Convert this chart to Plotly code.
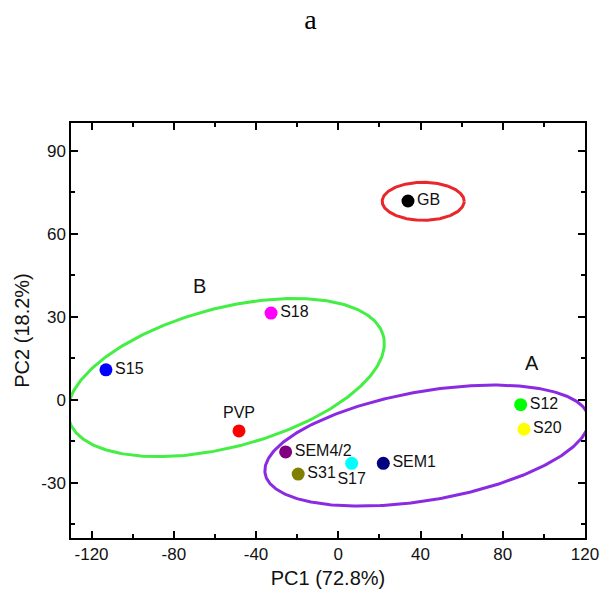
import numpy as np
import plotly.graph_objects as go

# ---- data ----
samples = ["GB", "S18", "S15", "PVP", "SEM4/2", "S31", "S17", "SEM1", "S12", "S20"]
pc1 = [33.9, -32.7, -113.0, -48.3, -25.6, -19.5, 6.5, 21.9, 88.7, 90.3]
pc2 = [71.8, 31.3, 10.8, -11.3, -18.9, -26.9, -23.0, -23.0, -1.8, -10.7]
colors = ["#000000", "#ff00ff", "#0000ff", "#ff0000", "#800080", "#808000",
          "#00ffff", "#000080", "#00ff00", "#ffff00"]
label_pos = ["middle right", "middle right", "middle right", "top center", "middle right",
             "middle right", "bottom center", "middle right", "middle right", "middle right"]

# group ellipses: center (data), semi-axes (px), rotation (deg), colour
ell_names = ["GB", "B", "A"]
ell_cx = [41.3, -54.6, 43.1]
ell_cy = [71.7, 8.0, -16.6]
ell_a_px = [41.0, 162.8, 164.2]
ell_b_px = [19.0, 69.4, 54.4]
ell_ang = [0.0, 14.9, 9.85]
ell_col = ["#e8262b", "#44ee44", "#8a2be2"]

group_labels = ["A", "B"]
group_x = [94.2, -67.3]
group_y = [13.1, 41.1]

x_range = [-130, 120]
y_range = [-50, 100]
x_ticks = [-120, -80, -40, 0, 40, 80, 120]
x_ticklabels = ["-120", "-80", "-40", "0", "40", "80", "120"]
y_ticks = [-30, 0, 30, 60, 90]
y_ticklabels = ["-30", "0", "30", "60", "90"]

W, H = 603, 600
ml, mr, mt, mb = 71, 18, 123, 62
pxx = (W - ml - mr) / (x_range[1] - x_range[0])
pxy = (H - mt - mb) / (y_range[1] - y_range[0])

FONT = "Liberation Sans, Arial"

fig = go.Figure()

t = np.linspace(0, 2 * np.pi, 361)
for cx, cy, a, b, ang, col in zip(ell_cx, ell_cy, ell_a_px, ell_b_px, ell_ang, ell_col):
    th = np.deg2rad(ang)
    dx = a * np.cos(t) * np.cos(th) - b * np.sin(t) * np.sin(th)
    dy = a * np.cos(t) * np.sin(th) + b * np.sin(t) * np.cos(th)
    fig.add_trace(go.Scatter(x=cx + dx / pxx, y=cy + dy / pxy, mode="lines",
                             line=dict(color=col, width=3), hoverinfo="skip",
                             showlegend=False))

fig.add_trace(go.Scatter(
    x=pc1, y=pc2, mode="markers+text", text=samples, textposition=label_pos,
    marker=dict(size=13, color=colors),
    textfont=dict(family=FONT, size=16, color="#111"),
    showlegend=False, cliponaxis=False))

for lab, gx, gy in zip(group_labels, group_x, group_y):
    fig.add_annotation(x=gx, y=gy, text=lab, showarrow=False,
                       font=dict(family=FONT, size=20, color="#111"))

axis_common = dict(showline=True, linecolor="black", linewidth=1.5, mirror="ticks",
                   ticks="inside", ticklen=7, tickwidth=1.5, tickcolor="black",
                   showgrid=False, zeroline=False,
                   tickfont=dict(family=FONT, size=17, color="#111"))

fig.update_xaxes(range=x_range, tickvals=x_ticks, ticktext=x_ticklabels, autorange=False,
                 minor=dict(dtick=20, tick0=0, ticks="inside", ticklen=4, tickwidth=1.5,
                            tickcolor="black"),
                 title=dict(text="PC1 (72.8%)", standoff=8,
                            font=dict(family=FONT, size=20, color="#111")),
                 **axis_common)
fig.update_yaxes(range=y_range, tickvals=y_ticks, ticktext=y_ticklabels, autorange=False,
                 minor=dict(dtick=15, tick0=0, ticks="inside", ticklen=4, tickwidth=1.5,
                            tickcolor="black"),
                 title=dict(text="PC2 (18.2%)", standoff=6,
                            font=dict(family=FONT, size=20, color="#111")),
                 **axis_common)

fig.update_layout(
    width=W, height=H, autosize=False,
    margin=dict(l=ml, r=mr, t=mt, b=mb, autoexpand=False),
    plot_bgcolor="white", paper_bgcolor="white",
    title=dict(text="a", x=0.515, xanchor="center", y=0.985, yanchor="top",
               font=dict(family="Liberation Serif, Times New Roman, serif", size=28, color="black")),
)

fig.write_html("out.html", config={"displayModeBar": False},
               post_script="document.body.style.margin='0';document.body.style.padding='0';")
